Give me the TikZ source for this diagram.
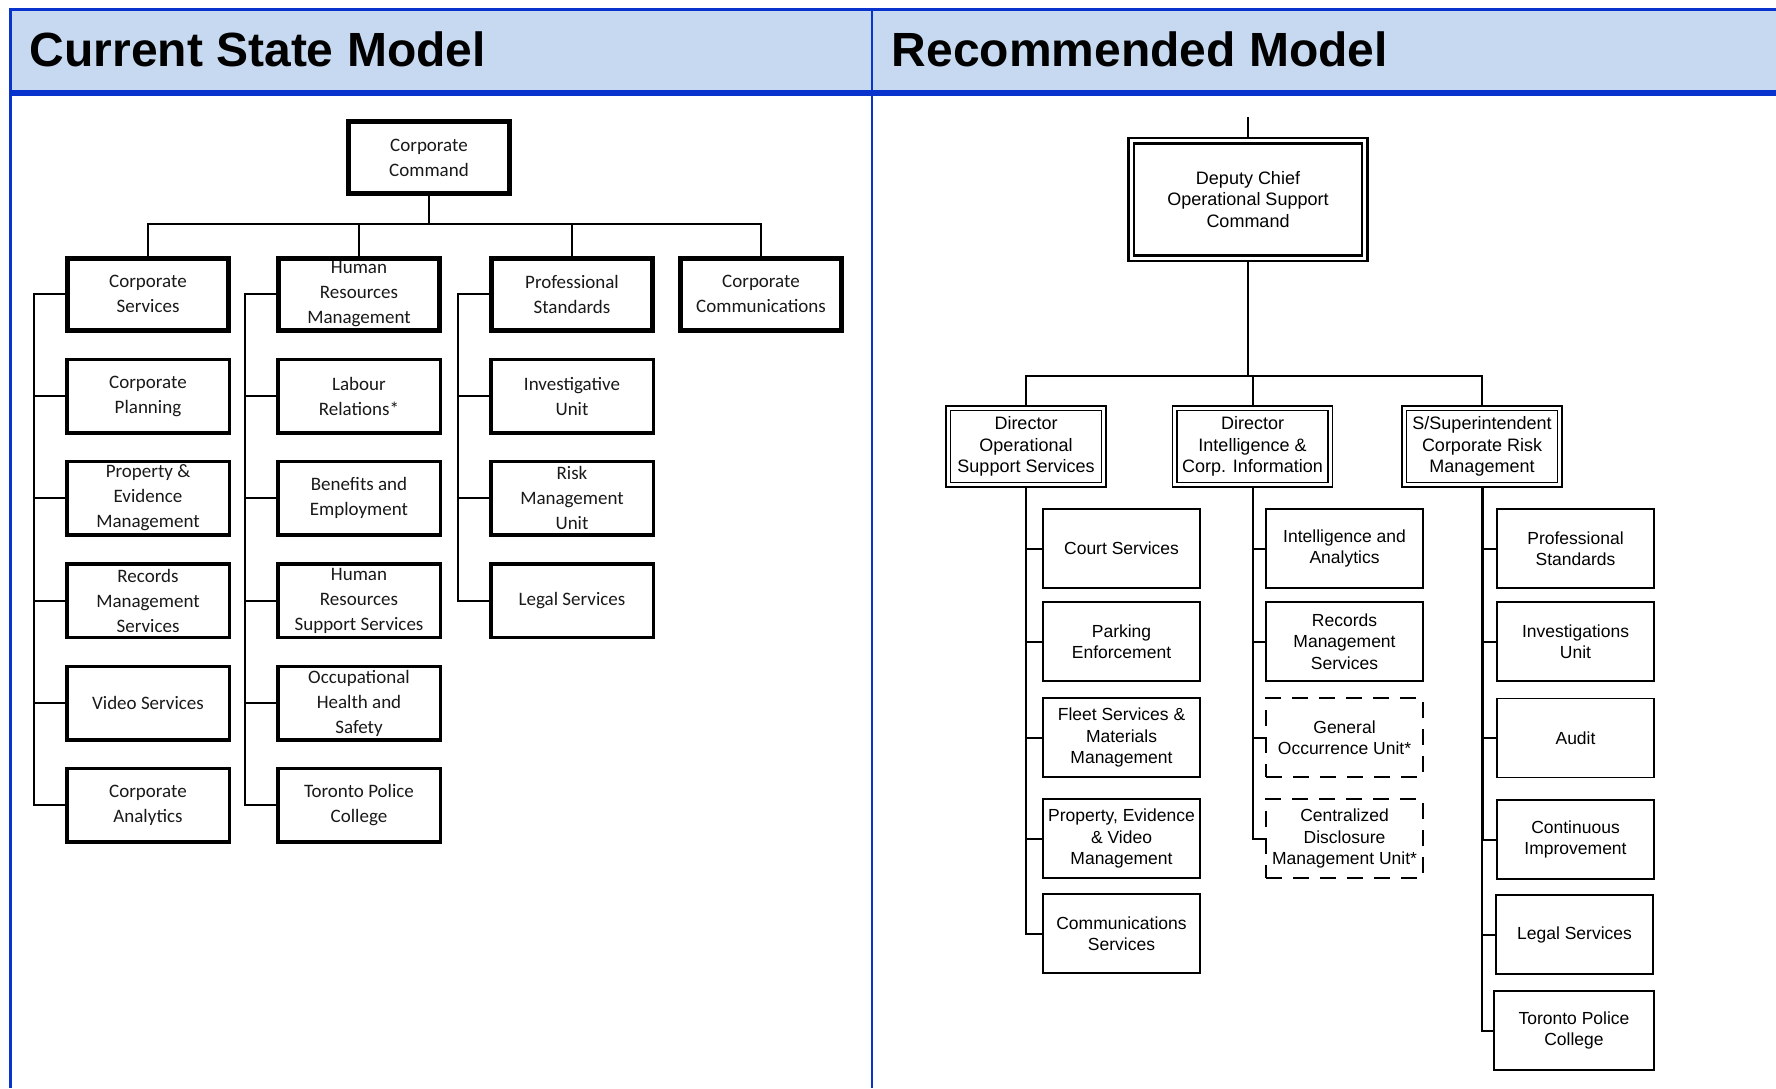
\documentclass[tikz,border=0pt]{standalone}
\usepackage{fontspec}
\setmainfont{Liberation Sans}
\newfontfamily\calibri{Carlito}
\usetikzlibrary{backgrounds}

\definecolor{hdrfill}{RGB}{198,217,240}
\definecolor{hdrblue}{RGB}{8,52,205}
\definecolor{inkgray}{RGB}{25,25,25}

\tikzset{
  % left chart (current structure)
  lvlA/.style={draw, line width=5pt, fill=white, minimum width=161pt, minimum height=72pt,
    inner sep=0pt, align=center, text=inkgray, font=\calibri\fontsize{19}{25}\selectfont},
  lvlB/.style={lvlA, line width=3.5pt, minimum width=162.5pt, minimum height=73.5pt},
  conn/.style={line width=2pt, draw=black},
  % right chart (recommended structure)
  rbox/.style={draw, line width=1.8pt, fill=white, minimum width=157pt, minimum height=79pt,
    inner sep=0pt, align=center, font=\fontsize{17.5}{21.5}\selectfont},
  rdash/.style={rbox, dashed, dash pattern=on 16pt off 11pt},
  dirbox/.style={rbox, double, double distance=2.7pt, minimum width=155.5pt, minimum height=76.5pt,
    font=\fontsize{18}{21.5}\selectfont},
  chief/.style={rbox, double, line width=2.5pt, double distance=3pt,
    minimum width=233.5pt, minimum height=117.5pt, font=\fontsize{18}{21.5}\selectfont},
  rconn/.style={line width=2pt, draw=black},
  title/.style={anchor=base west, inner sep=0pt, font=\fontsize{48}{56}\selectfont\bfseries},
}

\begin{document}
\begin{tikzpicture}[x=1pt,y=-1pt]
\useasboundingbox (0,0) rectangle (1776,1088);

% ---------- header band and frame ----------
\fill[hdrfill] (10,9) rectangle (1776,93);
\draw[hdrblue, line width=2.6pt] (9,9.3) -- (1776,9.3);
\draw[hdrblue, line width=5.5pt] (9,93) -- (1776,93);
\draw[hdrblue, line width=2.6pt] (10.3,8) -- (10.3,1088);
\draw[hdrblue, line width=2.6pt] (872,8) -- (872,1088);

\node[title] (tcur) at (29.5,66) {Current State Model};
\node[title] (trec) at (891.5,66) {Recommended Model};

% ---------- current structure ----------
\node[lvlA] (cc) at (429,157.5) {Corporate\\Command};

\node[lvlA] (cs)   at (148,294) {Corporate\\Services};
\node[lvlA] (hrm)  at (359,294) {Human\\Resources\\Management};
\node[lvlA] (ps)   at (572,294) {Professional\\Standards};
\node[lvlA] (ccom) at (761,294) {Corporate\\Communications};

\node[lvlB] (a1) at (148,396)   {Corporate\\Planning};
\node[lvlB] (a2) at (148,498)   {Property \&\\Evidence\\Management};
\node[lvlB] (a3) at (148,600.5) {Records\\Management\\Services};
\node[lvlB] (a4) at (148,703)   {Video Services};
\node[lvlB] (a5) at (148,805)   {Corporate\\Analytics};

\node[lvlB] (b1) at (359,396)   {Labour\\Relations*};
\node[lvlB] (b2) at (359,498)   {Benefits and\\Employment};
\node[lvlB] (b3) at (359,600.5) {Human\\Resources\\Support Services};
\node[lvlB] (b4) at (359,703)   {Occupational\\Health and\\Safety};
\node[lvlB] (b5) at (359,805)   {Toronto Police\\College};

\node[lvlB] (p1) at (572,396)   {Investigative\\Unit};
\node[lvlB] (p2) at (572,498)   {Risk\\Management\\Unit};
\node[lvlB] (p3) at (572,600.5) {Legal Services};

% ---------- recommended structure ----------
\node[chief] (dc) at (1248,199.5) {Deputy Chief\\Operational Support\\Command};

\node[dirbox] (d1) at (1026,446.5)   {Director\\Operational\\Support Services};
\node[dirbox] (d2) at (1252.5,446.5) {Director\\Intelligence \&\\Corp. Information};
\node[dirbox] (d3) at (1482,446.5)   {S/Superintendent\\Corporate Risk\\Management};

\node[rbox] (e1) at (1121.5,548.5) {Court Services};
\node[rbox] (e2) at (1121.5,641.5) {Parking\\Enforcement};
\node[rbox] (e3) at (1121.5,737.5) {Fleet Services \&\\Materials\\Management};
\node[rbox] (e4) at (1121.5,838.5) {Property, Evidence\\\& Video\\Management};
\node[rbox] (e5) at (1121.5,933.5) {Communications\\Services};

\node[rbox]  (f1) at (1344.5,548.5) {Intelligence and\\Analytics};
\node[rbox]  (f2) at (1344.5,641.5) {Records\\Management\\Services};
\node[rdash] (f3) at (1344.5,737.5) {General\\Occurrence Unit*};
\node[rdash] (f4) at (1344.5,838.5) {Centralized\\Disclosure\\Management Unit*};

\node[rbox] (g1) at (1575.5,548.5)  {Professional\\Standards};
\node[rbox] (g2) at (1575.5,641.5)  {Investigations\\Unit};
\node[rbox] (g3) at (1575.5,738)    {Audit};
\node[rbox] (g4) at (1575.5,839.5)  {Continuous\\Improvement};
\node[rbox] (g5) at (1574.5,934.5)  {Legal Services};
\node[rbox, minimum width=160pt] (g6) at (1574,1030.5) {Toronto Police\\College};

% ---------- connectors ----------
\coordinate (busL) at (429,224);
\coordinate (colA) at (34,294);
\coordinate (colB) at (245,294);
\coordinate (colP) at (458,294);
\coordinate (stub) at (1248,117);
\coordinate (busR) at (1248,375.5);

\begin{scope}[on background layer]
  % current structure
  \draw[conn] (cc.south) -- (busL);
  \draw[conn] (cs.north) |- (busL) -| (ccom.north);
  \draw[conn] (hrm.north) -- (hrm.north |- busL);
  \draw[conn] (ps.north) -- (ps.north |- busL);

  \draw[conn] (cs.west) -- (colA) |- (a5.west);
  \foreach \n in {a1,a2,a3,a4} \draw[conn] (\n.west) -- (\n.west -| colA);
  \draw[conn] (hrm.west) -- (colB) |- (b5.west);
  \foreach \n in {b1,b2,b3,b4} \draw[conn] (\n.west) -- (\n.west -| colB);
  \draw[conn] (ps.west) -- (colP) |- (p3.west);
  \foreach \n in {p1,p2} \draw[conn] (\n.west) -- (\n.west -| colP);

  % recommended structure
  \draw[rconn] (stub) -- (dc.north);
  \draw[rconn] (dc.south) -- (busR);
  \draw[rconn] (d1.north) |- (busR) -| (d3.north);
  \draw[rconn] (d2.north) -- (d2.north |- busR);

  \draw[rconn] (d1.south) |- (e5.west);
  \foreach \n in {e1,e2,e3,e4} \draw[rconn] (\n.west) -- (\n.west -| d1.south);
  \draw[rconn] (d2.south) |- (f4.west);
  \foreach \n in {f1,f2,f3} \draw[rconn] (\n.west) -- (\n.west -| d2.south);
  \draw[rconn] (d3.south) |- (g6.west);
  \draw[rconn, line width=3pt] (d3.south) -- (d3.south |- g4.west);
  \foreach \n in {g1,g2,g3,g4,g5} \draw[rconn] (\n.west) -- (\n.west -| d3.south);
\end{scope}
\end{tikzpicture}
\end{document}
